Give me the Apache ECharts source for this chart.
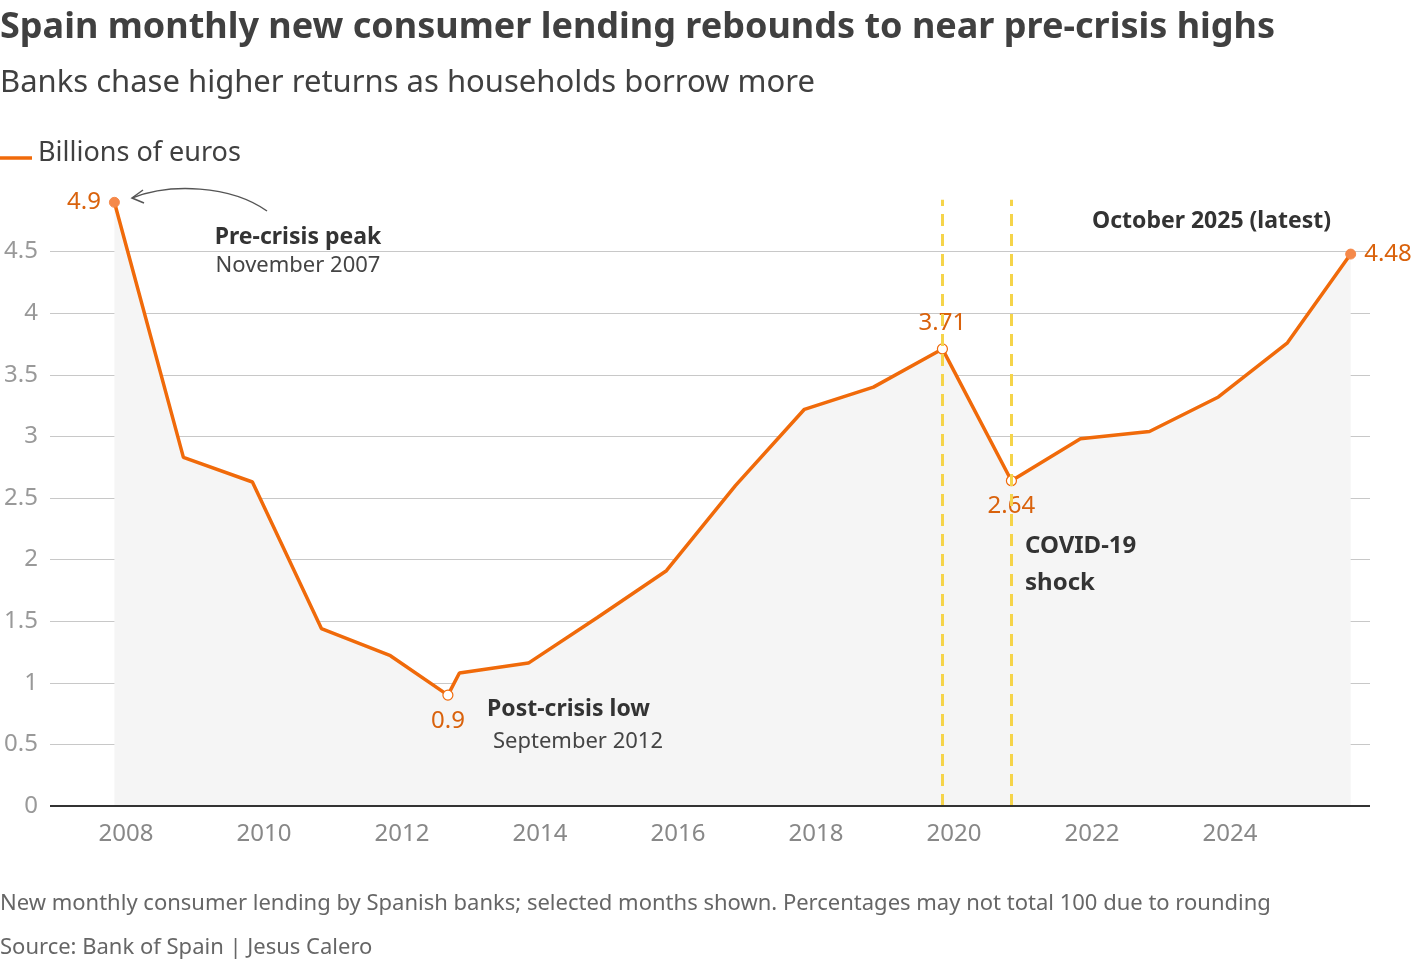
<!DOCTYPE html>
<html>
<head>
<meta charset="utf-8">
<script src="https://cdn.jsdelivr.net/npm/echarts@6/dist/echarts.min.js"></script>
<style>
html,body{margin:0;padding:0;background:#fff;}
#chart{width:1420px;height:964px;}
</style>
</head>
<body>
<div id="chart"></div>
<script>
var months = ['2007-11','2008-11','2009-11','2010-11','2011-11','2012-09','2012-11','2013-11','2014-11','2015-11',
              '2016-11','2017-11','2018-11','2019-11','2020-11','2021-11','2022-11','2023-11','2024-11','2025-10'];
var values = [4.9,2.83,2.63,1.44,1.22,0.9,1.08,1.16,1.53,1.91,2.6,3.22,3.4,3.71,2.64,2.98,3.04,3.32,3.76,4.48];
var yearTicks = [2008,2010,2012,2014,2016,2018,2020,2022,2024];
var covidLines = ['2019-11','2020-11'];

var orange = '#f06a0a';
var font = 'Noto Sans';

function toYear(m){
    var p = m.split('-');
    return parseInt(p[0]) + (parseInt(p[1]) - 1) / 12;
}

// which points get a label and where
var labelPos = {'2007-11':'left','2012-09':'bottom','2019-11':'top','2020-11':'bottom','2025-10':'right'};
var filled = {'2007-11':true,'2025-10':true};

var seriesData = months.map(function(m, i){
    var item = {value:[toYear(m), values[i]]};
    if(labelPos[m]){
        item.symbolSize = 10;
        item.itemStyle = filled[m] ? {color:'#f5894a', borderColor:'#f5894a'} : {color:'#fff', borderColor:orange, borderWidth:1.2};
        item.label = {show:true, position:labelPos[m], formatter:String(values[i]), color:'#d9620c', fontSize:24, fontFamily:font, distance:8};
    } else {
        item.symbolSize = 0;
    }
    return item;
});

var chart = echarts.init(document.getElementById('chart'));
chart.setOption({
    animation:false,
    grid:{left:50, right:50, top:190, bottom:158},
    xAxis:{
        type:'value', min:2006.9, max:2026.03,
        axisLine:{show:false}, axisTick:{show:false}, splitLine:{show:false},
        axisLabel:{customValues:yearTicks, formatter:function(v){ return String(v); }, color:'#888', fontSize:24, fontFamily:font, margin:16}
    },
    yAxis:{
        type:'value', min:0, max:5, interval:0.5,
        axisLabel:{formatter:function(v){ return v >= 5 ? '' : String(v); }, color:'#999', fontSize:24, fontFamily:font, margin:12},
        axisLine:{show:false}, axisTick:{show:false},
        splitLine:{show:true, showMaxLine:false, lineStyle:{color:'#c8c8c8', width:1.2}}
    },
    series:[{
        type:'line',
        data:seriesData,
        symbol:'circle',
        lineStyle:{color:orange, width:3.5},
        areaStyle:{color:'#f5f5f5', opacity:1},
        z:3,
        markLine:{
            silent:true, symbol:'none', label:{show:false},
            lineStyle:{color:'#f5d44a', type:[12,8], width:3},
            data:covidLines.map(function(m){ return [{coord:[toYear(m),0]},{coord:[toYear(m),4.92]}]; })
                .concat([[{coord:[2006.9,0], lineStyle:{color:'#333', type:'solid', width:2}},{coord:[2026.03,0]}]])
        }
    }],
    graphic:{elements:[
        {type:'text', z:100, left:0, top:10, style:{text:'Spain monthly new consumer lending rebounds to near pre-crisis highs', fontSize:36, fontWeight:'bold', fill:'#404040', fontFamily:font}},
        {type:'text', z:100, left:0, top:68, style:{text:'Banks chase higher returns as households borrow more', fontSize:31, fill:'#404040', fontFamily:font}},
        {type:'line', z:100, shape:{x1:0, y1:158, x2:32, y2:158}, style:{stroke:orange, lineWidth:3.5}},
        {type:'text', z:100, left:38, top:140, style:{text:'Billions of euros', fontSize:27, fill:'#404040', fontFamily:font}},
        {type:'text', z:100, x:298, y:237, style:{text:'Pre-crisis peak', fontSize:23, fontWeight:'bold', fill:'#333', fontFamily:font, align:'center', verticalAlign:'middle'}},
        {type:'text', z:100, x:298, y:266, style:{text:'November 2007', fontSize:22, fill:'#444', fontFamily:font, align:'center', verticalAlign:'middle'}},
        {type:'bezierCurve', z:100, shape:{x1:267, y1:211, cpx1:230, cpy1:185, x2:132, y2:198, cpx2:170, cpy2:183}, style:{stroke:'#555', lineWidth:1.5, fill:null}},
        {type:'polyline', z:100, shape:{points:[[143,190],[132,198],[144,203]]}, style:{stroke:'#555', lineWidth:1.5, fill:null}},
        {type:'text', z:100, x:487, y:709, style:{text:'Post-crisis low', fontSize:23, fontWeight:'bold', fill:'#333', fontFamily:font, verticalAlign:'middle'}},
        {type:'text', z:100, x:493, y:742, style:{text:'September 2012', fontSize:22, fill:'#444', fontFamily:font, verticalAlign:'middle'}},
        {type:'text', z:100, x:1025, y:546, style:{text:'COVID-19', fontSize:24, fontWeight:'bold', fill:'#333', fontFamily:font, verticalAlign:'middle'}},
        {type:'text', z:100, x:1025, y:583, style:{text:'shock', fontSize:24, fontWeight:'bold', fill:'#333', fontFamily:font, verticalAlign:'middle'}},
        {type:'text', z:100, x:1331, y:221, style:{text:'October 2025 (latest)', fontSize:23, fontWeight:'bold', fill:'#333', fontFamily:font, align:'right', verticalAlign:'middle'}},
        {type:'text', z:100, left:0, top:893, style:{text:'New monthly consumer lending by Spanish banks; selected months shown. Percentages may not total 100 due to rounding', fontSize:22, fill:'#666', fontFamily:font}},
        {type:'text', z:100, left:0, top:937, style:{text:'Source: Bank of Spain | Jesus Calero', fontSize:22, fill:'#666', fontFamily:font}}
    ]}
});
</script>
</body>
</html>
